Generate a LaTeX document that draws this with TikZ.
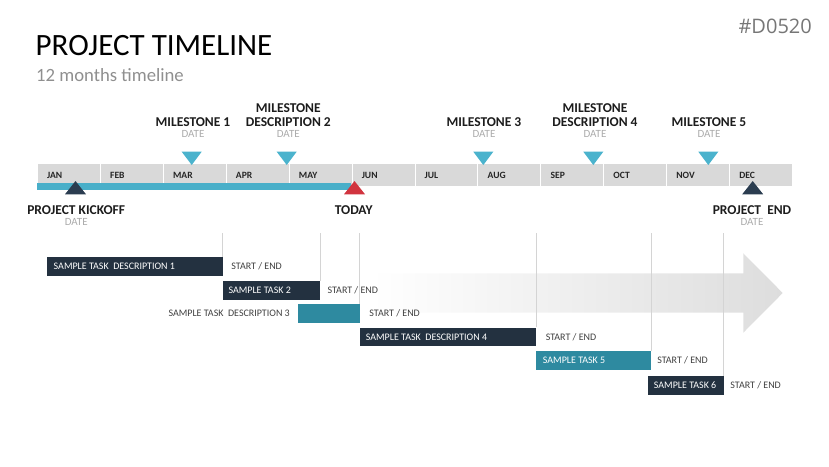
\documentclass[tikz,border=0pt]{standalone}
\usepackage{fontspec}
\setmainfont{Carlito}
\newfontfamily\codefont{Open Sans}
\definecolor{navy}{HTML}{233140}
\definecolor{tealc}{HTML}{2E8AA0}
\definecolor{milec}{HTML}{4BB3CD}
\definecolor{progc}{HTML}{49AFC9}
\definecolor{redc}{HTML}{D1343F}
\definecolor{kickc}{HTML}{2B3D50}
\definecolor{barc}{HTML}{D9D9D9}
\definecolor{datec}{HTML}{ABABAB}
\definecolor{subc}{HTML}{8F8F8F}
\definecolor{codec}{HTML}{767676}
\definecolor{guidec}{HTML}{D4D4D4}
\definecolor{arrowc}{HTML}{DDDDDD}
\definecolor{arrowm}{HTML}{F4F4F4}
\definecolor{labelc}{HTML}{1C1C1C}
\definecolor{monthc}{HTML}{262626}
\definecolor{greytxt}{HTML}{404040}
\begin{document}
\begin{tikzpicture}[x=1pt,y=-1pt,
  lbl/.style={font=\fontsize{13.5}{14}\selectfont\bfseries, text=labelc, inner sep=0pt, anchor=base},
  datel/.style={font=\fontsize{11}{12}\selectfont, text=datec, inner sep=0pt, anchor=base},
  monthl/.style={font=\fontsize{9.6}{10}\selectfont\bfseries, text=monthc, inner sep=0pt, anchor=base west},
  cell/.style={draw=white, line width=1pt, fill=barc, minimum width=62.92pt, minimum height=23pt, inner sep=0pt, anchor=north west},
  taskbox/.style={inner sep=0pt, anchor=north west, minimum height=18.7pt},
  tasktxt/.style={font=\fontsize{10}{11}\selectfont, inner sep=0pt, text height=6.44pt, text depth=0pt},
  guide/.style={draw=guidec, line width=0.7pt}
]
\useasboundingbox (0,0) rectangle (829,466);

% titles
\node[font=\fontsize{31}{32}\selectfont, inner sep=0pt, anchor=base west] (title) at (35.5,55) {PROJECT TIMELINE};
\node[font=\fontsize{18.7}{20}\selectfont, text=subc, inner sep=0pt, anchor=base west] (subtitle) at (36,81.7) {12 months timeline};
\node[font=\codefont\fontsize{20}{22}\selectfont, text=codec, inner sep=0pt, anchor=base east] (code) at (812,33) {\#D0520};

% month bar
\foreach \m [count=\i] in {JAN,FEB,MAR,APR,MAY,JUN,JUL,AUG,SEP,OCT,NOV,DEC}{
  \node[cell] (m\i) at ({37+62.92*(\i-1)},163) {};
  \node[monthl] (ml\i) at ({47+62.92*(\i-1)},178.2) {\m};
}
% progress line
\fill[progc] (37,183.3) rectangle (351,190);

% milestone triangles (down)
\foreach \c in {191.7,286.7,483.3,593.3,708.3}{
  \fill[milec] ({\c-10},151.7) -- ({\c+10},151.7) -- (\c,165) -- cycle;
}
% up triangles
\fill[kickc] (65,194.3) -- (86,194.3) -- (75.5,181) -- cycle;
\fill[redc] (344,194.3) -- (365,194.3) -- (354.5,181) -- cycle;
\fill[kickc] (742.2,194.3) -- (763.2,194.3) -- (752.7,181) -- cycle;

% milestone labels
\node[lbl] (ms1) at (193,126) {MILESTONE 1};
\node[datel] (d1) at (193,137.5) {DATE};
\node[lbl] (ms2a) at (288.3,112.7) {MILESTONE};
\node[lbl] (ms2b) at (288.3,126) {DESCRIPTION 2};
\node[datel] (d2) at (288.3,137.5) {DATE};
\node[lbl] (ms3) at (484,126) {MILESTONE 3};
\node[datel] (d3) at (484,137.5) {DATE};
\node[lbl] (ms4a) at (595,112.7) {MILESTONE};
\node[lbl] (ms4b) at (595,126) {DESCRIPTION 4};
\node[datel] (d4) at (595,137.5) {DATE};
\node[lbl] (ms5) at (709,126) {MILESTONE 5};
\node[datel] (d5) at (709,137.5) {DATE};

\node[lbl] (kick) at (76.2,214.4) {PROJECT KICKOFF};
\node[datel] (dk) at (76.2,225.2) {DATE};
\node[lbl] (today) at (353.7,214.4) {TODAY};
\node[lbl] (pend) at (752,214.4) {PROJECT\ \ END};
\node[datel] (de) at (752,225.2) {DATE};

% big arrow
\shade[left color=white, middle color=arrowm, right color=arrowc] (372,273.3) -- (743.3,273.3) -- (743.3,253.3) -- (782.7,293) -- (743.3,332.7) -- (743.3,312.7) -- (372,312.7) -- cycle;

% task boxes
\node[taskbox, fill=navy, minimum width=175.6pt] (t1) at (46.7,256.7) {};
\node[taskbox, fill=navy, minimum width=97.7pt] (t2) at (222.3,280.7) {};
\node[taskbox, fill=tealc, minimum width=61.3pt] (t3) at (298,304) {};
\node[taskbox, fill=navy, minimum width=176.4pt] (t4) at (359.3,327.3) {};
\node[taskbox, fill=tealc, minimum width=115pt] (t5) at (535.7,350.7) {};
\node[taskbox, fill=navy, minimum width=75.6pt, minimum height=19pt] (t6) at (647.7,376) {};

% guide lines
\foreach \i in {1,...,6}{
  \coordinate (g\i) at (t\i.north east |- 0,233);
  \draw[guide] (g\i) -- (t\i.north east);
}

% task texts
\node[tasktxt, text=white, anchor=west] (tx1) at ([xshift=6.8pt]t1.west) {SAMPLE TASK\ \ DESCRIPTION 1};
\node[tasktxt, text=white, anchor=west] (tx2) at ([xshift=6pt]t2.west) {SAMPLE TASK 2};
\node[tasktxt, text=greytxt, anchor=east] (tx3) at ([xshift=-8pt]t3.west) {SAMPLE TASK\ \ DESCRIPTION 3};
\node[tasktxt, text=white, anchor=west] (tx4) at ([xshift=6.3pt]t4.west) {SAMPLE TASK\ \ DESCRIPTION 4};
\node[tasktxt, text=white, anchor=west] (tx5) at ([xshift=7pt]t5.west) {SAMPLE TASK 5};
\node[tasktxt, text=white, anchor=west] (tx6) at ([xshift=6pt]t6.west) {SAMPLE TASK 6};

\node[tasktxt, text=greytxt, anchor=west] (se1) at ([xshift=8.5pt]t1.east) {START / END};
\node[tasktxt, text=greytxt, anchor=west] (se2) at ([xshift=7pt]t2.east) {START / END};
\node[tasktxt, text=greytxt, anchor=west] (se3) at ([xshift=9.5pt]t3.east) {START / END};
\node[tasktxt, text=greytxt, anchor=west] (se4) at ([xshift=9.5pt]t4.east) {START / END};
\node[tasktxt, text=greytxt, anchor=west] (se5) at ([xshift=6pt]t5.east) {START / END};
\node[tasktxt, text=greytxt, anchor=west] (se6) at ([xshift=6.5pt]t6.east) {START / END};
\end{tikzpicture}
\end{document}
